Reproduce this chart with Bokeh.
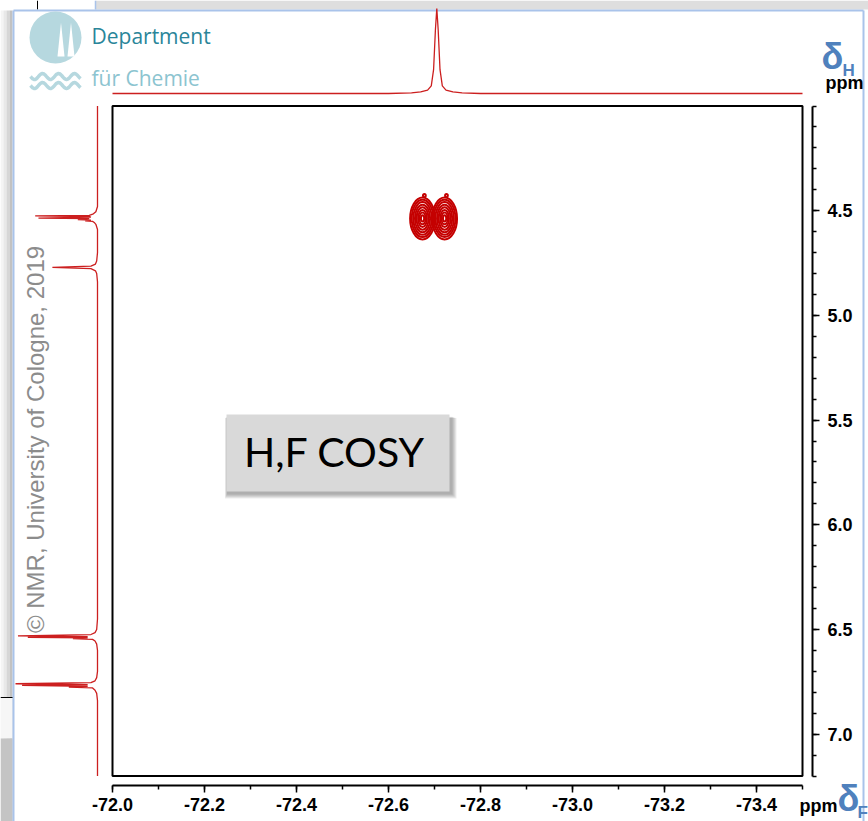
import math
import numpy as np
from bokeh.plotting import figure
from bokeh.models import Range1d, FixedTicker, NumeralTickFormatter
from bokeh.core.properties import value
from bokeh.embed import file_html
from bokeh.resources import INLINE

W, H = 868, 821

# ---------------- data ----------------
# 19F projection (top trace): shift in ppm and relative intensity
f_proj_ppm = [-72.000, -72.600, -72.650, -72.670, -72.685, -72.693, -72.698, -72.702,
              -72.705, -72.708, -72.712, -72.717, -72.725, -72.740, -72.760, -72.800, -73.500]
f_proj_int = [0.0, 0.0, 0.008, 0.018, 0.04, 0.09, 0.28, 0.75,
              1.0, 0.75, 0.28, 0.09, 0.04, 0.018, 0.008, 0.0, 0.0]

# 1H projection (left trace): shift in ppm and relative intensity
h_proj_ppm = [4.000, 4.480, 4.505, 4.515, 4.522, 4.525, 4.528, 4.531, 4.535, 4.538,
              4.542, 4.545, 4.548, 4.551, 4.556, 4.565, 4.590, 4.700, 4.740, 4.755,
              4.765, 4.771, 4.777, 4.787, 4.800, 4.840, 6.450, 6.500, 6.515, 6.524,
              6.530, 6.534, 6.537, 6.540, 6.543, 6.547, 6.555, 6.570, 6.600, 6.700,
              6.730, 6.745, 6.754, 6.759, 6.763, 6.767, 6.771, 6.775, 6.779, 6.790,
              6.805, 6.840, 7.200]
h_proj_int = [0.0, 0.0, 0.02, 0.05, 0.10, 0.76, 0.10, 0.08, 0.72, 0.10,
              0.24, 0.08, 0.15, 0.06, 0.04, 0.02, 0.0, 0.0, 0.01, 0.025,
              0.08, 0.55, 0.08, 0.025, 0.01, 0.0, 0.0, 0.01, 0.03, 0.08,
              0.97, 0.12, 0.85, 0.12, 0.30, 0.06, 0.03, 0.01, 0.0, 0.0,
              0.01, 0.03, 0.08, 1.00, 0.12, 0.92, 0.12, 0.35, 0.06, 0.03,
              0.01, 0.0, 0.0]

# H,F cross peak: two lobes (F shift, H shift) and the contour level sizes (ppm)
peak_f = [-72.674, -72.722]
peak_h = [4.537, 4.537]
level_w = [0.054, 0.047, 0.040, 0.033, 0.026, 0.019, 0.013, 0.007]
level_h = [0.200, 0.178, 0.156, 0.132, 0.108, 0.082, 0.056, 0.030]
# small contour islands just above each lobe
islet_f = [-72.678, -72.726]
islet_h = [4.428, 4.428]
islet_w = [0.006, 0.006]
islet_h_size = [0.016, 0.016]

# spectrum window
f_limits = [-72.0, -73.5]
h_limits = [4.0, 7.2]

x_ticks = [-72.0, -72.2, -72.4, -72.6, -72.8, -73.0, -73.2, -73.4]
x_tick_labels = ["-72.0", "-72.2", "-72.4", "-72.6", "-72.8", "-73.0", "-73.2", "-73.4"]
x_minor = [-72.0, -72.1, -72.2, -72.3, -72.4, -72.5, -72.6, -72.7, -72.8,
           -72.9, -73.0, -73.1, -73.2, -73.3, -73.4, -73.5]
y_ticks = [4.5, 5.0, 5.5, 6.0, 6.5, 7.0]
y_tick_labels = ["4.5", "5.0", "5.5", "6.0", "6.5", "7.0"]
y_minor = [4.0, 4.1, 4.2, 4.3, 4.4, 4.5, 4.6, 4.7, 4.8, 4.9, 5.0, 5.1, 5.2, 5.3,
           5.4, 5.5, 5.6, 5.7, 5.8, 5.9, 6.0, 6.1, 6.2, 6.3, 6.4, 6.5, 6.6, 6.7,
           6.8, 6.9, 7.0, 7.1, 7.2]

# ---------------- page geometry (pixels) ----------------
FX0, F_SCALE = 112.0, 460.0     # pixel of -72.0 ppm, pixels per ppm (F)
HY0, H_SCALE = 105.5, 209.4     # pixel of 4.0 ppm, pixels per ppm (H)
TOP_BASE, TOP_GAIN = 93.0, 85.0     # top trace baseline pixel and height
LEFT_BASE, LEFT_GAIN = 97.0, 82.0   # left trace baseline pixel and height

x_range = Range1d(start=-72.0 + FX0 / F_SCALE, end=-72.0 - (W - FX0) / F_SCALE)
y_range = Range1d(start=4.0 + (H - HY0) / H_SCALE, end=4.0 - HY0 / H_SCALE)

p = figure(width=W, height=H, x_range=x_range, y_range=y_range,
           x_axis_location="below", y_axis_location="right",
           output_backend="svg", toolbar_location=None, min_border=0,
           outline_line_color=None, background_fill_color="white",
           border_fill_color="white")
p.grid.visible = False

p.extra_x_ranges = {
    "px": Range1d(0, W),
    "hproj": Range1d(start=LEFT_BASE / LEFT_GAIN, end=(LEFT_BASE - W) / LEFT_GAIN),
}
p.extra_y_ranges = {
    "px": Range1d(H, 0),
    "fproj": Range1d(start=(TOP_BASE - H) / TOP_GAIN, end=TOP_BASE / TOP_GAIN),
}
PX = dict(x_range_name="px", y_range_name="px")


def caption(x, y, s, size, color="black", font="Liberation Sans", style="bold", **kw):
    p.text(x=[x], y=[y], text=[s], text_font=value(font), text_font_style=style,
           text_font_size=f"{size}px", text_color=color, text_baseline="alphabetic",
           **PX, **kw)


# ---------------- window chrome ----------------
p.quad(left=95, right=W, top=0, bottom=9, fill_color="#dedede", line_color=None, **PX)
p.segment(x0=37, y0=0, x1=37, y1=9, line_color="black", line_width=1, **PX)
p.segment(x0=95, y0=0, x1=95, y1=9, line_color="#a9c3ea", line_width=1.5, **PX)
shade = ["#f4f4f4", "#e8e8e8", "#d6d6d6", "#c2c2c2"]
for i, c in enumerate(shade):
    p.quad(left=i * 3, right=i * 3 + 3, top=10, bottom=H, fill_color=c, line_color=None, **PX)
p.quad(left=0, right=12, top=697, bottom=738, fill_color="#f6f6f6", line_color=None, **PX)
p.quad(left=0, right=12, top=738, bottom=H, fill_color="#c4c4c4", line_color=None, **PX)
p.segment(x0=0, y0=697, x1=13, y1=697, line_color="black", line_width=1, **PX)
p.segment(x0=13, y0=10, x1=863, y1=10, line_color="#a9c3ea", line_width=2, **PX)
p.segment(x0=13, y0=10, x1=13, y1=H, line_color="#a9c3ea", line_width=2, **PX)
p.segment(x0=863, y0=10, x1=863, y1=H, line_color="#a9c3ea", line_width=2, **PX)

# ---------------- department logo ----------------
logo_blue = "#b6d8df"
p.circle(x=[55], y=[37], radius=26, fill_color=logo_blue, line_color=None, **PX)
p.patch(x=[57, 60.5, 64], y=[56, 22, 56], fill_color="white", line_color=None, **PX)
p.patch(x=[67, 70.5, 74], y=[56, 22, 56], fill_color="white", line_color=None, **PX)
wx = np.linspace(30, 80, 60)
for base in (76, 85):
    p.line(wx, base + 3 * np.sin((wx - 30) / 16 * 2 * math.pi), line_color=logo_blue,
           line_width=3.5, **PX)
caption(91, 35, "Department", 21, color="#2a8599", font="Open Sans", style="normal")
caption(91, 77, "für Chemie", 21, color="#8cc4d0", font="Open Sans", style="normal")

# ---------------- copyright ----------------
p.text(x=[35], y=[439], text=["© NMR, University of Cologne, 2019"], angle=math.pi / 2,
       text_font=value("Liberation Sans"), text_font_size="24px", text_color="#8c8c8c",
       text_align="center", text_baseline="middle", **PX)

# ---------------- projections ----------------
p.line(f_proj_ppm, f_proj_int, y_range_name="fproj", line_color="#cc1f1f", line_width=1.3)
p.line(h_proj_int, h_proj_ppm, x_range_name="hproj", line_color="#cc1f1f", line_width=1.3)

# ---------------- 2D frame and contours ----------------
p.quad(left=f_limits[0], right=f_limits[1], top=h_limits[0], bottom=h_limits[1],
       fill_color=None, line_color="black", line_width=2)

ex, ey, ew, eh = [], [], [], []
for cf, ch in zip(peak_f, peak_h):
    for w, h in zip(level_w, level_h):
        ex.append(cf); ey.append(ch); ew.append(w); eh.append(h)
ex += islet_f; ey += islet_h; ew += islet_w; eh += islet_h_size
p.ellipse(x=ex, y=ey, width=ew, height=eh, fill_color=None, line_color="#c40000",
          line_width=2)

# ---------------- "H,F COSY" label box ----------------
for k in range(1, 6):
    p.quad(left=226 + 1 - k * 0.5, right=449 + 2 + k, top=414 + 2 + k * 0.3,
           bottom=491 + 2 + k, fill_color="black", fill_alpha=0.07, line_color=None, **PX)
p.quad(left=226, right=449, top=414, bottom=491, fill_color="#d9d9d9", line_color=None, **PX)
caption(334, 451, "H,F COSY", 41, font="Lato", style="normal", text_align="center")

# ---------------- axes ----------------
label_font = "Liberation Sans"
xa = p.xaxis[0]
xa.fixed_location = 4.0 + (785 - HY0) / H_SCALE
xa.bounds = (min(f_limits), max(f_limits))
xa.ticker = FixedTicker(ticks=x_ticks, minor_ticks=x_minor)
xa.formatter = NumeralTickFormatter(format="0.0")
xa.major_label_overrides = dict(zip(x_ticks, x_tick_labels))
xa.major_label_standoff = 5

ya = p.yaxis[0]
ya.fixed_location = -72.0 - (812 - FX0) / F_SCALE
ya.bounds = (min(h_limits), max(h_limits))
ya.ticker = FixedTicker(ticks=y_ticks, minor_ticks=y_minor)
ya.formatter = NumeralTickFormatter(format="0.0")
ya.major_label_overrides = dict(zip(y_ticks, y_tick_labels))
ya.major_label_standoff = 8

for ax in (xa, ya):
    ax.axis_line_width = 2
    ax.axis_line_color = "black"
    ax.major_tick_in = 0
    ax.major_tick_out = 7
    ax.minor_tick_in = 0
    ax.minor_tick_out = 4
    ax.major_tick_line_width = 1.5
    ax.minor_tick_line_width = 1.5
    ax.major_label_text_font = label_font
    ax.major_label_text_font_style = "bold"
    ax.major_label_text_font_size = "18px"
    ax.major_label_text_color = "black"

# ---------------- axis titles ----------------
delta_blue = "#4f81bd"
caption(821, 56, "δ", 36, color=delta_blue)
caption(842, 70, "H", 17, color=delta_blue)
caption(825, 82, "ppm", 18)
caption(799, 805, "ppm", 18)
caption(837, 798, "δ", 36, color=delta_blue)
caption(857, 812, "F", 17, color=delta_blue)

open("out.html", "w").write(file_html(p, INLINE))
